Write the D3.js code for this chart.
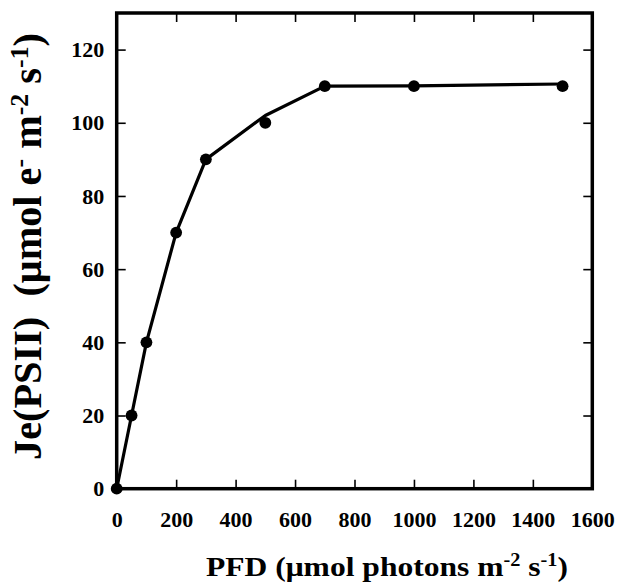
<!DOCTYPE html>
<html>
<head>
<meta charset="utf-8">
<script src="https://cdn.jsdelivr.net/npm/d3@7"></script>
<style>
  body { margin: 0; background: #fff; }
  svg text { font-family: "Liberation Serif", "Times New Roman", serif; font-weight: bold; fill: #000; }
</style>
</head>
<body>
<svg id="svg"></svg>
<script>
// measured points
var pfd = [0, 50, 100, 200, 300, 500, 700, 1000, 1500];
var je = [0, 20, 40, 70, 90, 100, 110, 110, 110];

// drawn curve (not exactly through the points)
var fitPfd = [0, 50, 100, 200, 300, 500, 700, 1000, 1500];
var fitJe = [0, 20, 40, 70, 90, 102, 110, 110.1, 110.6];

var xTicks = [0, 200, 400, 600, 800, 1000, 1200, 1400, 1600];
var yTicks = [0, 20, 40, 60, 80, 100, 120];

var W = 617, H = 583;
var mLeft = 116.7, mRight = 592.3, mTop = 13, mBottom = 488.7;

var svg = d3.select("#svg")
    .attr("width", W)
    .attr("height", H);

var x = d3.scaleLinear().domain([0, 1600]).range([mLeft, mRight]);
var y = d3.scaleLinear().domain([0, 130]).range([mBottom, mTop]);

function styleAxis(g) {
    g.select(".domain").remove();
    g.selectAll(".tick line").attr("stroke", "#000").attr("stroke-width", 1.6);
    g.selectAll(".tick text").style("font-size", "22px").attr("fill", "#000");
}

svg.append("g")
    .attr("transform", "translate(0," + mBottom + ")")
    .call(d3.axisBottom(x).tickValues(xTicks).tickSize(-9).tickPadding(22.5).tickFormat(d3.format("d")))
    .call(styleAxis);

svg.append("g")
    .attr("transform", "translate(" + mLeft + ",0)")
    .call(d3.axisLeft(y).tickValues(yTicks).tickSize(-9).tickPadding(12.5).tickFormat(d3.format("d")))
    .call(styleAxis);

svg.append("g")
    .attr("transform", "translate(0," + mTop + ")")
    .call(d3.axisTop(x).tickValues(xTicks).tickSize(-9).tickFormat(""))
    .call(styleAxis);

svg.append("g")
    .attr("transform", "translate(" + mRight + ",0)")
    .call(d3.axisRight(y).tickValues(yTicks).tickSize(-9).tickFormat(""))
    .call(styleAxis);

// frame
svg.append("rect")
    .attr("x", mLeft)
    .attr("y", mTop)
    .attr("width", mRight - mLeft)
    .attr("height", mBottom - mTop)
    .attr("fill", "none")
    .attr("stroke", "#000")
    .attr("stroke-width", 3.5);

// curve
var fit = fitPfd.map(function(d, i) { return [d, fitJe[i]]; });
svg.append("path")
    .datum(fit)
    .attr("fill", "none")
    .attr("stroke", "#000")
    .attr("stroke-width", 3.2)
    .attr("stroke-linejoin", "round")
    .attr("d", d3.line().x(function(d) { return x(d[0]); }).y(function(d) { return y(d[1]); }));

// points
svg.append("g")
    .selectAll("circle")
    .data(pfd.map(function(d, i) { return [d, je[i]]; }))
    .enter().append("circle")
    .attr("cx", function(d) { return x(d[0]); })
    .attr("cy", function(d) { return y(d[1]); })
    .attr("r", 5.9)
    .attr("fill", "#000");

// x title
var xt = svg.append("text")
    .attr("x", 387)
    .attr("y", 576)
    .attr("text-anchor", "middle")
    .attr("textLength", 362)
    .attr("lengthAdjust", "spacingAndGlyphs")
    .style("font-size", "28px");
xt.append("tspan").text("PFD (\u03bcmol photons m");
xt.append("tspan").attr("baseline-shift", "super").style("font-size", "18px").text("-2");
xt.append("tspan").text(" s");
xt.append("tspan").attr("baseline-shift", "super").style("font-size", "18px").text("-1");
xt.append("tspan").text(")");

// y title
var yt = svg.append("text")
    .attr("transform", "translate(41,246.5) rotate(-90)")
    .attr("text-anchor", "middle")
    .attr("textLength", 427)
    .attr("lengthAdjust", "spacingAndGlyphs")
    .style("font-size", "39px");
yt.append("tspan").text("Je(PSII)\u00a0\u00a0(\u03bcmol e");
yt.append("tspan").attr("baseline-shift", "super").style("font-size", "25px").text("-");
yt.append("tspan").text(" m");
yt.append("tspan").attr("baseline-shift", "super").style("font-size", "25px").text("-2");
yt.append("tspan").text(" s");
yt.append("tspan").attr("baseline-shift", "super").style("font-size", "25px").text("-1");
yt.append("tspan").text(")");
</script>
</body>
</html>
